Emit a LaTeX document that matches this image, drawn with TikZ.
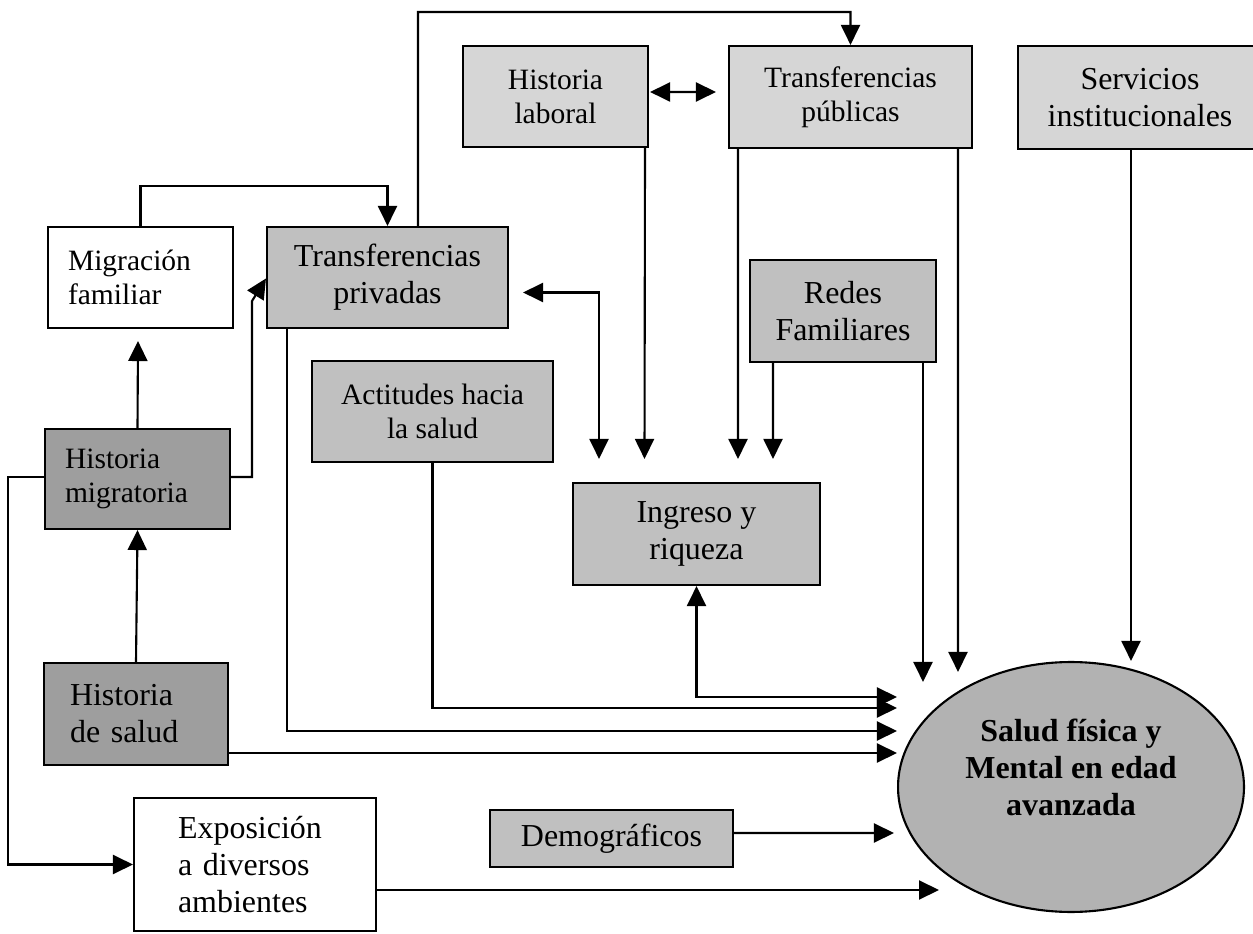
\documentclass[tikz,border=0pt]{standalone}
\usepackage{fontspec}
\setmainfont{Liberation Serif}
\usetikzlibrary{positioning,calc,shapes.geometric,arrows.meta}

\definecolor{lightfill}{RGB}{214,214,214}
\definecolor{midfill}{RGB}{192,192,192}
\definecolor{darkfill}{RGB}{158,158,158}
\definecolor{ellfill}{RGB}{178,178,178}

\newcommand{\boxfontbig}{\fontsize{18.2}{21}\selectfont}
\newcommand{\boxfontsmall}{\fontsize{16.8}{19.3}\selectfont}

\tikzset{
  box/.style={draw, line width=1.2pt, inner sep=0pt, align=center, font=\boxfontbig},
  leftbox/.style={draw, line width=1.2pt, inner ysep=0pt, align=left, font=\boxfontbig},
  link/.style={line width=1.2pt, -{Triangle[length=0.4cm,width=0.38cm]}},
  twoway/.style={line width=1.2pt, {Triangle[length=0.4cm,width=0.38cm]}-{Triangle[length=0.4cm,width=0.38cm]}},
}

\begin{document}
\begin{tikzpicture}[x=0.02cm,y=0.02cm]
    \useasboundingbox (0,0) rectangle (1253,933);

    % top row
    \node (hlab) at (555.5,836.5) [box, fill=lightfill, minimum width=3.7cm, minimum height=2.02cm, font=\boxfontsmall] {Historia\\laboral};
    \node (tpub) at (850.5,836) [box, fill=lightfill, minimum width=4.86cm, minimum height=2.04cm, font=\boxfontsmall] {Transferencias\\públicas};
    \node (serv) at (1140,835.5) [box, fill=lightfill, minimum width=4.88cm, minimum height=2.06cm] {Servicios\\institucionales};

    \node (migf) at (140.5,655.5) [leftbox, fill=white, minimum width=3.7cm, minimum height=2.02cm, text width=2.9cm, inner xsep=0.4cm, font=\boxfontsmall] {Migración\\familiar};
    \node (tpriv) at (387.5,655.5) [box, fill=midfill, minimum width=4.82cm, minimum height=2.02cm] {Transferencias\\privadas};
    \node (redes) at (843,622) [box, fill=midfill, minimum width=3.72cm, minimum height=2.04cm] {Redes\\Familiares};
    \node (acti) at (432.5,521.5) [box, fill=midfill, minimum width=4.82cm, minimum height=2.02cm, font=\boxfontsmall] {Actitudes hacia\\la salud};

    \node (hmig) at (137.5,454) [leftbox, fill=darkfill, minimum width=3.7cm, minimum height=2cm, text width=2.9cm, inner xsep=0.4cm, font=\boxfontsmall] {Historia\\migratoria};
    \node (ingr) at (696.5,399) [box, fill=midfill, minimum width=4.94cm, minimum height=2.04cm] {Ingreso y\\riqueza};
    \node (hsal) at (136,219) [leftbox, fill=darkfill, minimum width=3.68cm, minimum height=2.04cm, text width=2.64cm, inner xsep=0.52cm] {Historia\\de salud};

    \node (expo) at (255,68.5) [leftbox, fill=white, minimum width=4.84cm, minimum height=2.66cm, text width=3.08cm, inner xsep=0.88cm] {Exposición\\a diversos\\ambientes};
    \node (demo) at (611.5,94.5) [box, fill=midfill, minimum width=4.86cm, minimum height=1.14cm] {Demográficos};

    \node (ell) at (1071,146) [ellipse, draw, line width=1.2pt, fill=ellfill, minimum width=6.92cm, minimum height=5cm, inner sep=0pt] {};
    \node [align=center, font=\boxfontbig\bfseries] at ($(ell.center)+(0,20)$) {Salud física y\\Mental en edad\\avanzada};

    \node (topbend) [coordinate] at (418,921) {};

    % connectors
    \draw [twoway] ($(hlab.east)+(1,4.5)$) -- ($(tpub.west)+(-12,5)$);
    \draw [link] ($(tpriv.north)+(30.5,0)$) -- (topbend) -| (tpub.north);
    \draw [link] (migf.north) -- ++(0,40) -| (tpriv.north);
    \draw [link] (hmig.north) -- ($(migf.south)+(-2.5,-12)$);
    \draw [link] ($(hmig.east)+(0,2)$) -- ++(21,0) -- ++(0,176) -- ($(tpriv.west)+(0,-1)$);
    \draw [twoway] ($(tpriv.east)+(14,-15)$) -| ($(ingr.north)+(-97.5,23)$);
    \draw [link] ($(hlab.south)+(89.5,0)$) -- ($(ingr.north)+(-52,23)$);
    \draw [link] ($(tpub.south)+(-112.5,0)$) -- ($(ingr.north)+(41.5,23)$);
    \draw [link] ($(redes.south)+(-70,0)$) -- ($(ingr.north)+(76.5,23)$);

    \draw [link] ($(redes.south)+(80,0)$) -- ($(ell.north)+(-148,-21)$);
    \draw [link] ($(tpub.south)+(107.5,0)$) -- ($(ell.north)+(-113,-11)$);
    \draw [link] ($(serv.south)+(-9,0)$) -- ($(ell.north)+(60,0)$);

    \draw [twoway] (ingr.south) |- ($(ell.west)+(0,90)$);
    \draw [link] (acti.south) |- ($(ell.west)+(0,79)$);
    \draw [link] ($(tpriv.south)+(-100.5,0)$) |- ($(ell.west)+(0,56)$);
    \draw [link] ($(hsal.east)+(0,-39)$) -- ($(ell.west)+(0,34)$);
    \draw [link] ($(demo.east)+(0,5.5)$) -- ($(ell.west)+(-3,-46)$);
    \draw [link] ($(expo.east)+(0,-25.5)$) -- ($(ell.west)+(42,-103)$);

    \draw [link] ($(hmig.west)+(0,2)$) -- ++(-36,0) |- (expo.west);
    \draw [link] (hsal.north) -- (hmig.south);
\end{tikzpicture}
\end{document}
